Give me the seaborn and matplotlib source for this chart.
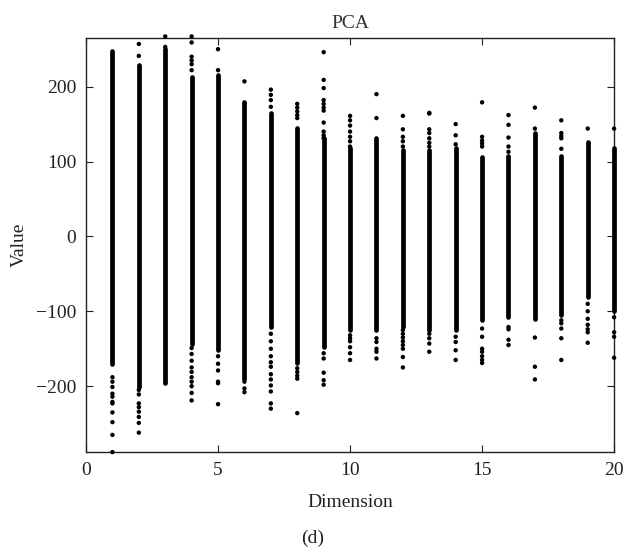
import matplotlib
matplotlib.use("Agg")
import matplotlib.pyplot as plt
import seaborn as sns
import pandas as pd

# Projected values per principal dimension: dense core range plus sparse tail points
dimensions = list(range(1, 21))
core_high = [248, 229, 250, 213, 215, 180, 165, 145, 131, 118,
             131, 115, 115, 118, 106, 107, 138, 107, 126, 118]
core_low = [-170, -201, -196, -143, -152, -190, -121, -169, -147, -125,
            -125, -121, -125, -125, -112, -107, -110, -105, -81, -99]
upper_tail = [
    [],
    [257, 241],
    [267, 253],
    [267, 259, 240, 235, 230, 222],
    [250, 222],
    [207],
    [196, 189, 182, 173],
    [177, 172, 167, 162, 158],
    [246, 209, 198, 182, 177, 172, 168, 152, 140, 135, 131],
    [161, 155, 148, 140, 133, 127, 120],
    [190, 158],
    [161, 143, 133, 127, 120],
    [165, 164, 143, 138, 131, 125, 120],
    [150, 135, 123],
    [179, 133, 128, 124, 120],
    [162, 149, 132, 120, 113],
    [172, 144],
    [155, 138, 134, 131, 117],
    [144],
    [144],
]
lower_tail = [
    [-188, -194, -201, -210, -214, -221, -223, -235, -248, -265, -288],
    [-205, -211, -223, -228, -234, -241, -249, -262],
    [],
    [-149, -157, -166, -175, -181, -188, -194, -200, -209, -219],
    [-160, -170, -179, -194, -196, -224],
    [-194, -203, -208],
    [-130, -140, -150, -160, -168, -174, -184, -191, -199, -207, -223, -230],
    [-176, -181, -186, -190, -236],
    [-156, -163, -182, -192, -198],
    [-132, -136, -140, -148, -156, -165],
    [-136, -141, -150, -154, -163],
    [-125, -130, -135, -140, -145, -150, -161, -175],
    [-130, -136, -143, -154],
    [-134, -141, -152, -165],
    [-123, -134, -150, -154, -160, -165, -169],
    [-121, -124, -138, -145],
    [-135, -174, -191],
    [-112, -116, -123, -136, -165],
    [-90, -100, -110, -118, -124, -128, -142],
    [-108, -128, -134, -162],
]
x_ticks = [0, 5, 10, 15, 20]
y_ticks = [-200, -100, 0, 100, 200]

sns.set_theme(style="ticks")
plt.rcParams["font.family"] = ["Liberation Serif", "DejaVu Serif"]
plt.rcParams["axes.unicode_minus"] = True

tail_rows = []
for d, ups, lows in zip(dimensions, upper_tail, lower_tail):
    for v in ups + lows:
        tail_rows.append({"Dimension": d, "Value": v})
tails = pd.DataFrame(tail_rows)

fig = plt.figure(figsize=(6.26, 5.5), dpi=100)
ax = fig.add_axes([0.1374, 0.178, 0.8436, 0.753])

ax.vlines(dimensions, core_low, core_high, colors="black", linewidth=3.4,
          capstyle="round", zorder=3, clip_on=False)
sns.scatterplot(data=tails, x="Dimension", y="Value", ax=ax, color="black",
                s=10, edgecolor="none", zorder=3, clip_on=False, legend=False)

ax.set_xlim(0, 20)
ax.set_ylim(-288, 265)
ax.set_xticks(x_ticks)
ax.set_yticks(y_ticks)
ax.tick_params(direction="in", length=5, width=0.8, top=True, right=True,
               labelsize=14, colors="#222222", pad=7)
for spine in ax.spines.values():
    spine.set_visible(True)
    spine.set_linewidth(1.0)
    spine.set_color("#222222")

ax.set_title("PCA", fontsize=14, color="#333333", pad=7)
ax.set_xlabel("Dimension", fontsize=14, color="#222222", labelpad=11)
ax.set_ylabel("Value", fontsize=14, color="#222222", labelpad=6)
fig.text(0.5, 0.022, "(d)", ha="center", va="center", fontsize=14, color="#222222")

fig.savefig("out.png", dpi=100)
